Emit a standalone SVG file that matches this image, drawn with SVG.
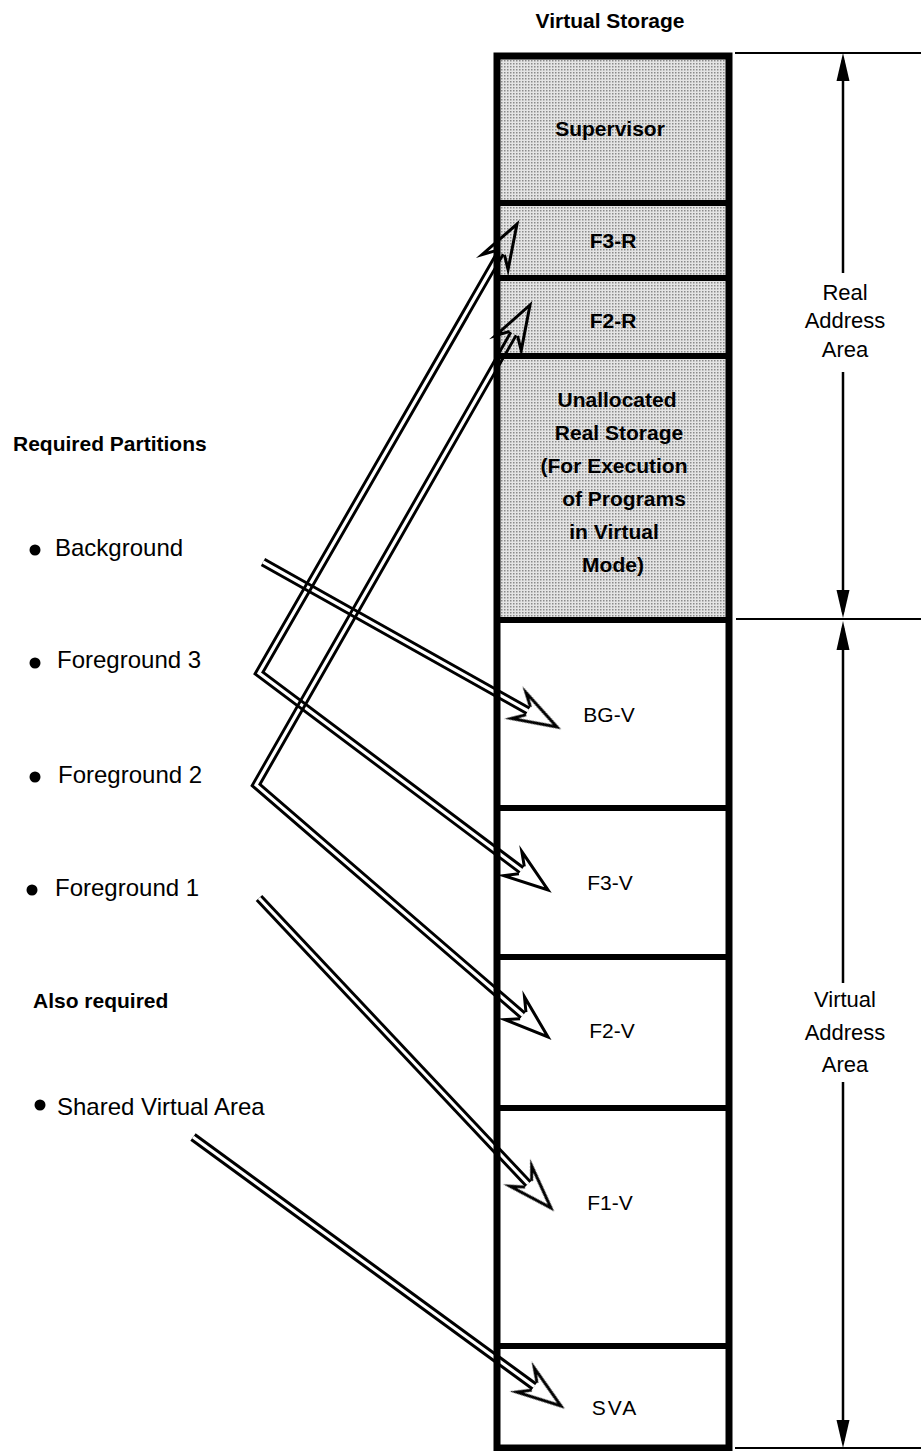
<svg xmlns="http://www.w3.org/2000/svg" xmlns:xlink="http://www.w3.org/1999/xlink" width="921" height="1451" viewBox="0 0 921 1451">
<style>
text{font-family:"Liberation Sans",Arial,sans-serif;fill:#000}
.b{font-weight:bold}
.lbl{font-size:24px}
.hd{font-size:21px;font-weight:bold}
.sh{font-size:21px;font-weight:bold;text-anchor:middle}
.vb{font-size:21px;text-anchor:middle}
.rl{font-size:22px;text-anchor:middle}
.div{stroke:#000;stroke-width:6;fill:none}
.dim{stroke:#000;stroke-width:2.5;fill:none}
.tick{stroke:#000;stroke-width:2;fill:none}
.arr{mix-blend-mode:multiply}
.so{stroke:#000;stroke-width:9;fill:none;stroke-linejoin:miter;stroke-miterlimit:10}
.si{stroke:#fff;stroke-width:3.2;fill:none;stroke-linejoin:miter;stroke-miterlimit:10}
.hh{stroke:#000;stroke-width:3;fill:#fff;stroke-linejoin:miter;stroke-miterlimit:10}
</style>
<defs>
<pattern id="dots" width="3" height="3" patternUnits="userSpaceOnUse">
<rect width="3" height="3" fill="#e4e4e4"/>
<rect width="1.5" height="1.5" fill="#8a8a8a"/>
</pattern>
<path id="head" d="M-33,-4.5 L-44,-15 L0,0 L-44,15 L-33,4.5"/>
</defs>
<rect width="921" height="1451" fill="#fff"/>

<text class="hd" x="610" y="28" text-anchor="middle">Virtual Storage</text>

<g id="column">
<rect x="497" y="56" width="232" height="564" fill="url(#dots)"/>
<g id="supervisor"><text class="sh" x="610" y="136">Supervisor</text></g>
<g id="f3r"><text class="sh" x="613" y="248">F3-R</text></g>
<g id="f2r"><text class="sh" x="613" y="328">F2-R</text></g>
<g id="unalloc">
<text class="sh" x="617" y="407">Unallocated</text>
<text class="sh" x="619" y="440">Real Storage</text>
<text class="sh" x="614" y="473">(For Execution</text>
<text class="sh" x="624" y="506">of Programs</text>
<text class="sh" x="614" y="539">in Virtual</text>
<text class="sh" x="613" y="572">Mode)</text>
</g>
<g id="bgv"><text class="vb" x="609" y="722">BG-V</text></g>
<g id="f3v"><text class="vb" x="610" y="890">F3-V</text></g>
<g id="f2v"><text class="vb" x="612" y="1038">F2-V</text></g>
<g id="f1v"><text class="vb" x="610" y="1210">F1-V</text></g>
<g id="sva"><text class="vb" x="615" y="1415" letter-spacing="2">SVA</text></g>
<line class="div" x1="497" y1="203" x2="729" y2="203"/>
<line class="div" x1="497" y1="278" x2="729" y2="278"/>
<line class="div" x1="497" y1="356" x2="729" y2="356"/>
<line class="div" x1="497" y1="620" x2="729" y2="620"/>
<line class="div" x1="497" y1="808" x2="729" y2="808"/>
<line class="div" x1="497" y1="957" x2="729" y2="957"/>
<line class="div" x1="497" y1="1108" x2="729" y2="1108"/>
<line class="div" x1="497" y1="1346" x2="729" y2="1346"/>
<rect x="497" y="56" width="232" height="1392" fill="none" stroke="#000" stroke-width="7"/>
</g>

<g id="left-labels">
<g id="req"><text class="hd" x="13" y="451">Required Partitions</text></g>
<g id="bg"><circle cx="35" cy="550" r="5.5"/><text class="lbl" x="55" y="556">Background</text></g>
<g id="fg3"><circle cx="35" cy="663" r="5.5"/><text class="lbl" x="57" y="668">Foreground 3</text></g>
<g id="fg2"><circle cx="35" cy="777" r="5.5"/><text class="lbl" x="58" y="783">Foreground 2</text></g>
<g id="fg1"><circle cx="32" cy="890" r="5.5"/><text class="lbl" x="55" y="896">Foreground 1</text></g>
<g id="also"><text class="hd" x="33" y="1008">Also required</text></g>
<g id="shared"><circle cx="40" cy="1105" r="5.5"/><text class="lbl" x="57" y="1115">Shared Virtual Area</text></g>
</g>

<g id="dimensions">
<line class="tick" x1="735" y1="53" x2="921" y2="53"/>
<line class="tick" x1="736" y1="619" x2="921" y2="619"/>
<line class="tick" x1="735" y1="1448" x2="921" y2="1448"/>
<line class="dim" x1="843" y1="60" x2="843" y2="273"/>
<line class="dim" x1="843" y1="372" x2="843" y2="612"/>
<line class="dim" x1="843" y1="628" x2="843" y2="983"/>
<line class="dim" x1="843" y1="1082" x2="843" y2="1441"/>
<polygon points="843,53 836.5,81 849.5,81"/>
<polygon points="843,618 836.5,590 849.5,590"/>
<polygon points="843,621 836.5,650 849.5,650"/>
<polygon points="843,1448 836.5,1420 849.5,1420"/>
<g id="real-label">
<text class="rl" x="845" y="300">Real</text>
<text class="rl" x="845" y="328">Address</text>
<text class="rl" x="845" y="357">Area</text>
</g>
<g id="virt-label">
<text class="rl" x="845" y="1007">Virtual</text>
<text class="rl" x="845" y="1040">Address</text>
<text class="rl" x="845" y="1072">Area</text>
</g>
</g>

<g id="connectors">
<g class="arr" id="a-bg">
<path class="so" d="M263,562 L528.2,710.9"/>
<path class="si" d="M263,562 L528.2,710.9"/>
<use href="#head" class="hh" transform="translate(557,727) rotate(29.3)"/>
</g>
<g class="arr" id="a-f3">
<path class="so" d="M500.6,252.6 L259,673 L521.6,870.2"/>
<path class="si" d="M500.6,252.6 L259,673 L521.6,870.2"/>
<use href="#head" class="hh" transform="translate(517,224) rotate(-60.1)"/>
<use href="#head" class="hh" transform="translate(548,890) rotate(36.9)"/>
</g>
<g class="arr" id="a-f2">
<path class="so" d="M513.6,333.6 L256,785 L523,1015.5"/>
<path class="si" d="M513.6,333.6 L256,785 L523,1015.5"/>
<use href="#head" class="hh" transform="translate(530,305) rotate(-60.3)"/>
<use href="#head" class="hh" transform="translate(548,1037) rotate(40.8)"/>
</g>
<g class="arr" id="a-f1">
<path class="so" d="M259,898 L528.4,1184"/>
<path class="si" d="M259,898 L528.4,1184"/>
<use href="#head" class="hh" transform="translate(551,1208) rotate(46.7)"/>
</g>
<g class="arr" id="a-sva">
<path class="so" d="M193,1137 L534.4,1386.5"/>
<path class="si" d="M193,1137 L534.4,1386.5"/>
<use href="#head" class="hh" transform="translate(561,1406) rotate(36.2)"/>
</g>
</g>
</svg>
